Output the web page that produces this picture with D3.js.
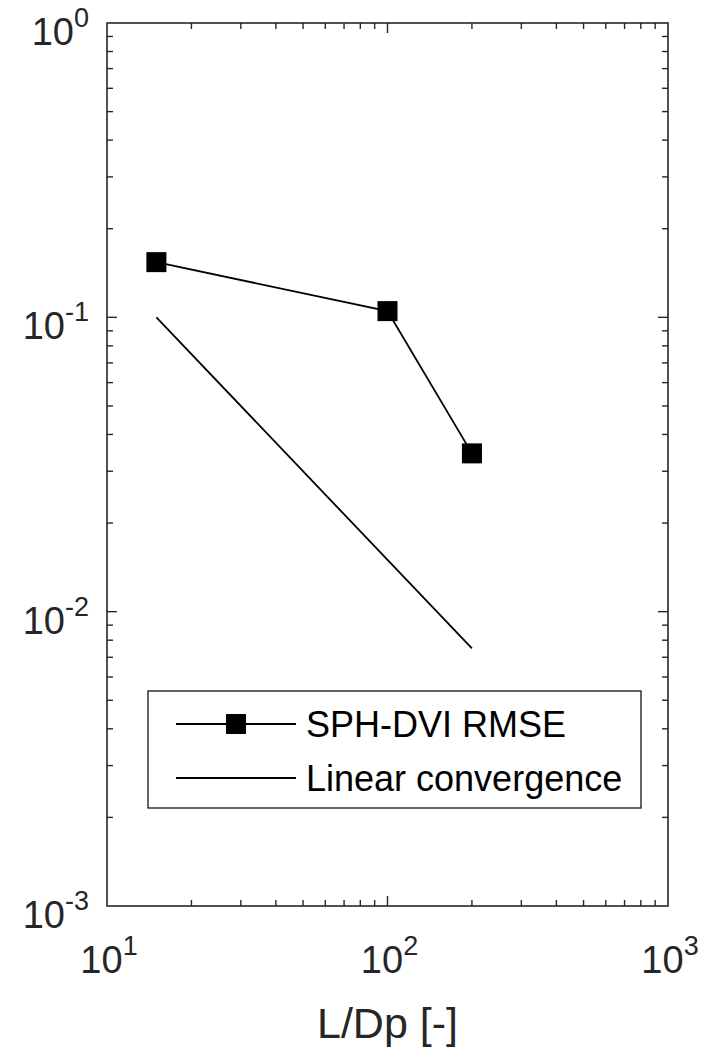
<!DOCTYPE html>
<html>
<head>
<meta charset="utf-8">
<script src="https://cdn.jsdelivr.net/npm/d3@7"></script>
<style>
  body { margin: 0; background: #fff; }
  text { font-family: "Liberation Sans", Arial, sans-serif; }
</style>
</head>
<body>
<div id="chart"></div>
<script>
// data
const sphLD = [15, 100, 200];
const sphRMSE = [0.154, 0.105, 0.0345];
const linLD = [15, 200];
const linErr = [0.1, 0.0075];
const xTickExp = [1, 2, 3];
const yTickExp = [0, -1, -2, -3];
const legendLabels = ["SPH-DVI RMSE", "Linear convergence"];
const xLabel = "L/Dp [-]";

const W = 717, H = 1050;
const margin = { top: 23, right: 49, bottom: 144, left: 107 };
const width = W - margin.left - margin.right;
const height = H - margin.top - margin.bottom;

const svg = d3.select("#chart").append("svg")
    .attr("width", W)
    .attr("height", H);

const g = svg.append("g")
    .attr("transform", "translate(" + margin.left + "," + margin.top + ")");

const x = d3.scaleLog().domain([10, 1000]).range([0, width]);
const y = d3.scaleLog().domain([1e-3, 1]).range([height, 0]);

const axisColor = "#262626";

// ticks (inward, all four sides)
function isMajor(v) { return Math.abs(Math.log10(v) - Math.round(Math.log10(v))) < 1e-9; }
const xt = x.ticks().filter(v => v > 10 && v < 1000);
const yt = y.ticks().filter(v => v > 1e-3 && v < 1);
const majLen = 10, minLen = 6;

const tickG = g.append("g").attr("stroke", axisColor).attr("stroke-width", 1.4);
xt.forEach(v => {
    let L = isMajor(v) ? majLen : minLen;
    tickG.append("line").attr("x1", x(v)).attr("x2", x(v)).attr("y1", height).attr("y2", height - L);
    tickG.append("line").attr("x1", x(v)).attr("x2", x(v)).attr("y1", 0).attr("y2", L);
});
yt.forEach(v => {
    let L = isMajor(v) ? majLen : minLen;
    tickG.append("line").attr("y1", y(v)).attr("y2", y(v)).attr("x1", 0).attr("x2", L);
    tickG.append("line").attr("y1", y(v)).attr("y2", y(v)).attr("x1", width).attr("x2", width - L);
});

// box
g.append("rect")
    .attr("width", width).attr("height", height)
    .attr("fill", "none").attr("stroke", axisColor).attr("stroke-width", 1.6);

// tick labels
function powLabel(sel) {
    sel.each(function(d) {
        d3.select(this).append("tspan").text("10");
        d3.select(this).append("tspan").attr("dy", -18).attr("font-size", 27).text(d);
    });
}

g.selectAll(".xlab")
    .data(xTickExp)
    .enter().append("text")
    .attr("class", "xlab")
    .attr("x", d => x(Math.pow(10, d)) + 2)
    .attr("y", height + 67)
    .attr("text-anchor", "middle")
    .attr("font-size", 38)
    .attr("fill", axisColor)
    .call(powLabel);

g.selectAll(".ylab")
    .data(yTickExp)
    .enter().append("text")
    .attr("class", "ylab")
    .attr("x", -18)
    .attr("y", d => y(Math.pow(10, d)) + 22)
    .attr("text-anchor", "end")
    .attr("font-size", 38)
    .attr("fill", axisColor)
    .call(powLabel);

// axis label
g.append("text")
    .attr("x", width / 2)
    .attr("y", height + 132)
    .attr("text-anchor", "middle")
    .attr("font-size", 43)
    .attr("fill", axisColor)
    .text(xLabel);

// lines
const line = d3.line().x(d => x(d[0])).y(d => y(d[1]));

g.append("path")
    .datum(d3.zip(sphLD, sphRMSE))
    .attr("d", line)
    .attr("fill", "none").attr("stroke", "#000").attr("stroke-width", 1.8);

g.append("path")
    .datum(d3.zip(linLD, linErr))
    .attr("d", line)
    .attr("fill", "none").attr("stroke", "#000").attr("stroke-width", 1.8);

const ms = 20;
g.selectAll(".marker")
    .data(d3.zip(sphLD, sphRMSE))
    .enter().append("rect")
    .attr("class", "marker")
    .attr("x", d => x(d[0]) - ms / 2)
    .attr("y", d => y(d[1]) - ms / 2)
    .attr("width", ms).attr("height", ms)
    .attr("fill", "#000");

// legend
const leg = svg.append("g").attr("transform", "translate(148,691)");
leg.append("rect")
    .attr("width", 493).attr("height", 117)
    .attr("fill", "#fff").attr("stroke", axisColor).attr("stroke-width", 1.4);

legendLabels.forEach((lab, i) => {
    let ly = 33 + i * 54;
    leg.append("line")
        .attr("x1", 28).attr("x2", 148).attr("y1", ly).attr("y2", ly)
        .attr("stroke", "#000").attr("stroke-width", 1.8);
    if (i === 0) {
        leg.append("rect")
            .attr("x", 88 - 10).attr("y", ly - 10)
            .attr("width", 20).attr("height", 20).attr("fill", "#000");
    }
    leg.append("text")
        .attr("x", 158)
        .attr("y", ly + 13)
        .attr("font-size", 36)
        .attr("fill", "#000")
        .text(lab);
});
</script>
</body>
</html>
